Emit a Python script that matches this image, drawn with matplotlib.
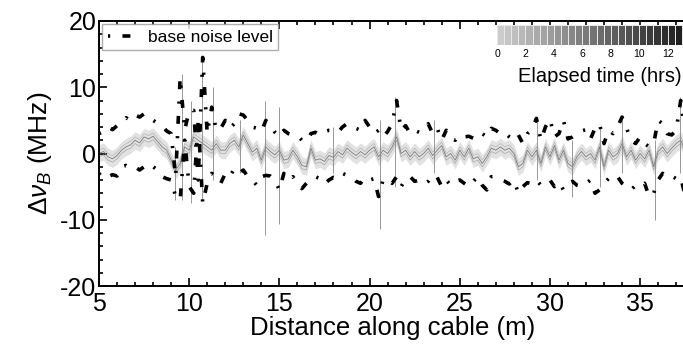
import numpy as np
import matplotlib
matplotlib.use("Agg")
import matplotlib.pyplot as plt
from matplotlib.colors import ListedColormap, BoundaryNorm

plt.rcParams['font.family'] = ['Liberation Sans', 'DejaVu Sans']
plt.rcParams['mathtext.fontset'] = 'custom'
plt.rcParams['mathtext.rm'] = 'Liberation Sans'
plt.rcParams['mathtext.it'] = 'Liberation Sans:italic'
plt.rcParams['axes.unicode_minus'] = False

# distance grid (m), 0.25 m step
dist = np.arange(5.0, 37.51, 0.25)

# mean shift of the traces (MHz)
shift_mean = [
    0.0, 0.3, -0.5, -0.8, -0.3, 0.5, 1.0, 1.3, 2.0, 1.6, 2.5, 2.2, 2.6, 1.8, 1.0, 0.5, -1.0, -2.5, -1.5, 1.0, 0.5,
    2.5, 2.0, 1.5, 1.0, 0.5, 1.5, 0.5, 0.5, 1.5, 2.0, 1.0, 2.8, 1.5, 0.2, 0.8, -1.0, 1.0, 0.3, -0.2, 0.5,
    -1.0, -0.8, 0.5, -0.5, -1.8, -2.0, 0.8, -1.0, -0.8, -1.2, -0.3, -0.6, 0.3, -0.2, 0.8, 0.2, -0.3, 0.3, -0.2, 0.5,
    1.0, -0.5, 0.5, 0.0, 1.0, 2.5, 0.0, 0.5, -0.5, 0.3, -0.5, 0.0, 0.8, -0.3, 0.5, 1.2, -0.5, 0.0, -1.0, 0.5,
    -0.5, 0.8, -0.8, -0.5, -1.5, -0.5, 0.8, 0.5, 1.0, 0.5, 0.8, 0.0, -2.0, -1.5, 0.5, -0.5, 0.5, -1.5, 1.0, -0.5,
    1.2, -1.0, 0.5, -1.5, -2.0, -0.5, 0.3, -0.5, 0.0, -1.0, 1.0, -2.0, 0.5, -0.5, 0.0, 1.5, -0.5, 0.5, -1.0, 0.0,
    -0.8, 0.5, -2.0, 0.3, 1.0, 0.0, 0.8, 1.5, 2.0, 0.5,
]
band_spread = 1.3

# base noise level, upper and lower (MHz)
noise_hi = [
    3.0, 3.3, 4.0, 3.6, 4.2, 4.6, 5.4, 5.0, 5.8, 5.5, 6.0, 5.3, 5.0, 4.6, 4.2, 3.4, 3.0, -3.5, 11.5, 3.5, 6.5,
    6.5, -4.0, 14.5, 3.0, 7.0, 3.5, 3.8, 5.0, 3.8, 4.5, 6.0, 5.8, 5.0, 4.0, 3.8, 3.3, 5.0, 4.2, 3.2, 2.5,
    3.5, 3.0, 2.8, 2.7, 2.0, 1.8, 3.0, 3.2, 2.8, 3.3, 3.5, 3.5, 3.2, 4.0, 4.5, 4.0, 3.8, 3.5, 5.0, 4.0,
    3.0, 3.5, 2.5, 3.3, 4.5, 8.0, 3.5, 4.2, 3.0, 3.5, 3.2, 3.6, 4.5, 3.0, 3.8, 2.0, 3.5, 2.3, 2.0, 2.8,
    2.5, 2.6, 2.3, 2.2, 3.0, 2.5, 3.8, 3.5, 3.0, 3.2, 2.5, 2.0, 2.8, 1.5, 3.0, 3.5, 5.3, 2.0, 4.0, 5.2,
    2.5, 3.0, 5.0, 2.2, 2.5, 3.0, 3.4, 3.6, 2.2, 3.8, 4.5, 1.5, 3.5, 3.0, 4.0, 5.5, 3.8, 2.0, 1.5, 2.5,
    1.5, 1.0, 1.5, 5.0, 4.5, 3.0, 2.8, 3.5, 8.0, 3.0,
]
noise_lo = [
    -3.0, -3.8, -3.5, -3.2, -3.4, -2.0, -1.8, -2.2, -2.0, -2.5, -2.0, -1.5, -2.0, -2.5, -3.5, -3.8, -4.0, -6.5, -7.0, 2.0, -5.0,
    -6.0, 5.0, -7.5, -4.5, -3.0, -3.5, -4.5, -3.0, -3.5, -2.3, -3.0, -2.5, -3.5, -4.0, -4.8, -3.5, -3.3, -3.4, -4.0, -5.5,
    -3.0, -4.0, -3.5, -4.5, -5.3, -4.5, -3.8, -3.5, -3.8, -4.6, -4.0, -3.6, -3.8, -3.0, -3.3, -3.5, -4.2, -4.5, -3.6, -4.0,
    -3.8, -6.5, -4.0, -3.8, -4.5, -3.5, -5.0, -3.8, -3.5, -4.2, -4.0, -4.6, -4.2, -3.2, -3.6, -5.0, -4.0, -4.8, -4.2, -4.0,
    -4.5, -5.0, -4.2, -3.5, -4.8, -5.5, -3.5, -3.6, -4.0, -4.2, -4.6, -4.0, -6.0, -5.0, -4.4, -4.6, -4.0, -4.8, -4.5, -4.0,
    -5.0, -4.3, -5.5, -4.5, -4.2, -4.8, -5.0, -4.5, -4.0, -6.0, -5.5, -4.5, -3.8, -3.2, -3.5, -4.5, -5.0, -5.5, -4.8, -5.0,
    -4.5, -6.5, -6.0, -4.0, -3.0, -3.6, -3.4, -3.8, -3.5, -6.5,
]

# sharp spikes in the traces
spike_x = [9.2, 9.6, 10.1, 10.7, 11.3, 12.8, 14.2, 15.0, 18.0, 20.6, 21.4, 23.6, 29.3, 31.2, 32.8, 34.0, 35.8, 37.2]
spike_top = [1, 12, 8, 14.5, 10, 5, 8, 7, 4, 5, 8.5, 5, 5, 2, 4, 5, 2, 8.5]
spike_bot = [-7, -7, -7.5, -7, -4, -3, -12.3, -10.6, -3, -11.4, -5, -3, -4, -6.5, -5, -3, -10, -3]

hours_bounds = np.arange(0, 13.51, 0.5)
hours_ticks = [0, 2, 4, 6, 8, 10, 12]

W, H = 683, 345
fig = plt.figure(figsize=(W / 100, H / 100), dpi=100)
ax = fig.add_axes([99 / W, 1 - 286 / H, (687 - 99) / W, (286 - 21) / H])

shift_mean = np.array(shift_mean)
ax.fill_between(dist, shift_mean - band_spread, shift_mean + band_spread,
                color='#e2e2e2', lw=0, zorder=1)
ax.plot(dist, shift_mean + 0.5, color='#b5b5b5', lw=0.5, zorder=2)
ax.plot(dist, shift_mean - 0.5, color='#a5a5a5', lw=0.5, zorder=2)
ax.plot(dist, shift_mean, color='#7a7a7a', lw=0.6, zorder=2)
ax.vlines(spike_x, spike_bot, spike_top, color='#888888', lw=0.6, zorder=2)

noise_style = dict(color='black', lw=2.6, dashes=(0.6, 3.4, 2.2, 3.4),
                   dash_capstyle='butt', zorder=3)
ax.plot(dist, noise_hi, label='base noise level', **noise_style)
ax.plot(dist, noise_lo, **noise_style)

ax.set_xlim(5, 37.6)
ax.set_ylim(-20, 20)
ax.set_xticks([5, 10, 15, 20, 25, 30, 35])
ax.set_xticks(np.arange(5, 38, 1), minor=True)
ax.set_yticks([-20, -10, 0, 10, 20])
ax.set_yticks(np.arange(-20, 21, 2), minor=True)
ax.tick_params(which='both', direction='in', top=True, right=False, labelsize=18, width=1.2)
ax.tick_params(axis='x', pad=4.5)
ax.tick_params(axis='y', pad=2)
ax.tick_params(which='major', length=6)
ax.tick_params(which='minor', length=3)
for s in ax.spines.values():
    s.set_linewidth(1.4)

ax.set_xlabel('Distance along cable (m)', fontsize=18.5, labelpad=0)
ax.set_ylabel(r'$\Delta\nu_B$ (MHz)', fontsize=19, labelpad=4)

leg = ax.legend(loc='upper left', bbox_to_anchor=(0.0, 1.0), fontsize=12.5, frameon=True,
                fancybox=False, borderaxespad=0.2, handlelength=2.0, handletextpad=0.3,
                borderpad=0.3)
leg.get_frame().set_edgecolor('#999999')
leg.get_frame().set_linewidth(1.0)

# elapsed time colour bar
greys = plt.get_cmap('gray')(np.linspace(0.8, 0.1, len(hours_bounds) - 1))
cmap = ListedColormap(greys)
norm = BoundaryNorm(hours_bounds, cmap.N)
cax = fig.add_axes([497 / W, 1 - 45 / H, (689 - 497) / W, 20 / H])
cax.pcolormesh(hours_bounds, [0, 1], np.array([hours_bounds[:-1] + 0.25]),
               cmap=cmap, norm=norm, edgecolors='#e8e8e8', linewidth=0.4)
cax.set_xlim(0, 13.5)
cax.set_ylim(0, 1)
cax.set_yticks([])
cax.set_xticks(hours_ticks)
cax.tick_params(axis='x', length=0, labelsize=7.5, pad=3)
for s in cax.spines.values():
    s.set_visible(False)
fig.text(682 / W, 1 - 76 / H, 'Elapsed time (hrs)', fontsize=14.5, ha='right', va='center')

fig.savefig('out.png', dpi=100)
